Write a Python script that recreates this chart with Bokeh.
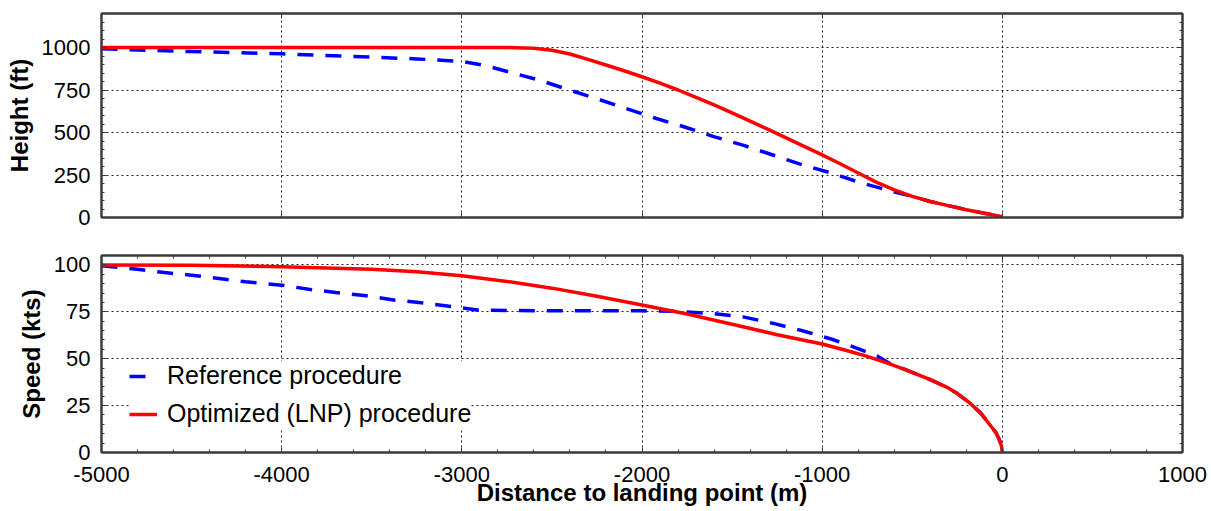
from bokeh.plotting import figure
from bokeh.layouts import column
from bokeh.models import (LinearAxis, SingleIntervalTicker, Range1d, Legend, LegendItem,
                          CustomJSTickFormatter, Grid)
from bokeh.embed import file_html
from bokeh.resources import INLINE

# ---------------- data ----------------
# Height panel
ref_h_x = [-5000, -4500, -4000, -3500, -3250, -3000, -2875, -2748, -2563, -2406, -2249, -2082,
           -1925, -1759, -1602, -1435, -1278, -1111, -954, -797, -630, -500, -400, -300,
           -200, -100, 0]
ref_h = [992, 976, 963, 943, 933, 918, 895, 859, 806, 751, 698, 639,
         584, 531, 476, 424, 369, 310, 263, 208, 159, 124, 94, 70,
         46, 25, 5]

opt_h_x = [-5000, -4000, -3000, -2800, -2700, -2600, -2500, -2400, -2300, -2200, -2100, -2000,
           -1900, -1800, -1700, -1600, -1500, -1400, -1300, -1200, -1100, -1000, -900, -800,
           -700, -600, -500, -400, -300, -200, -100, 0]
opt_h = [1000, 1000, 1000, 1000, 999, 995, 984, 962, 930, 897, 863, 828,
         790, 750, 707, 662, 615, 567, 518, 468, 418, 368, 316, 262,
         208, 162, 124, 94, 70, 46, 25, 5]

# Speed panel
ref_v_x = [-5000, -4800, -4650, -4500, -4200, -4000, -3850, -3700, -3530, -3370, -3200, -3050,
           -2900, -2500, -2000, -1800, -1600, -1440, -1270, -1110, -950, -790, -690, -625,
           -500, -400, -300, -250, -185, -120, -66, -35, -20, -10, -4, 0]
ref_v = [99.5, 97.7, 95.9, 94.5, 91, 89.2, 87, 85.3, 83.5, 81.2, 79.6, 77.7,
         75.8, 75.5, 75.5, 75.2, 74, 72.3, 68.8, 64.9, 60.5, 55, 51.2, 47.5,
         42.7, 38.8, 34.4, 31.4, 26.8, 21, 14.4, 10.5, 7.5, 5, 3, 0]

opt_v_x = [-5000, -4500, -4000, -3500, -3250, -3000, -2750, -2500, -2250, -2000, -1750, -1500,
           -1250, -1000, -875, -750, -625, -500, -400, -300, -250, -185, -120, -66,
           -35, -20, -10, -4, 0]
opt_v = [100, 99.8, 99, 97.7, 96.3, 94.2, 91.2, 87.6, 83.3, 78.6, 73.8, 68.4,
         62.8, 57.8, 54.6, 51.2, 47.2, 42.7, 38.8, 34.4, 31.4, 26.8, 21, 14.4,
         10.5, 7.5, 5, 3, 0]

series_names = ["Reference procedure", "Optimized (LNP) procedure"]
x_title = "Distance to landing point (m)"
y_titles = ["Height (ft)", "Speed (kts)"]

# ---------------- style ----------------
FONT = "Liberation Sans"
FRAME = "#3a3a3a"
BLUE = "#0000ff"
RED = "#ff0000"
W = 1211


def make_axis(ticker, labels, title=None, standoff=11, title_standoff=5, minor=True):
    ax = LinearAxis(ticker=ticker)
    ax.axis_line_color = FRAME
    ax.axis_line_width = 2
    ax.major_tick_in = 5
    ax.major_tick_out = 0
    ax.major_tick_line_color = FRAME
    ax.major_tick_line_width = 1
    ax.minor_tick_in = 3 if minor else 0
    ax.minor_tick_out = 0
    ax.minor_tick_line_color = FRAME if minor else None
    if labels:
        ax.formatter = CustomJSTickFormatter(code="return String(Math.round(tick));")
        ax.major_label_text_font = FONT
        ax.major_label_text_font_size = "22px"
        ax.major_label_text_color = "#000000"
        ax.major_label_standoff = standoff
    else:
        ax.formatter = CustomJSTickFormatter(code="return '';")
        ax.major_label_text_font_size = "0px"
        ax.major_label_standoff = 0
    if title:
        ax.axis_label = title
        ax.axis_label_text_font = FONT
        ax.axis_label_text_font_size = "24px"
        ax.axis_label_text_font_style = "bold"
        ax.axis_label_text_color = "#000000"
        ax.axis_label_standoff = title_standoff
    return ax


def make_panel(height, ymax, yint, b_top, b_bottom, xlabels, ytitle):
    p = figure(width=W, height=height, x_range=Range1d(-5000, 1000), y_range=Range1d(0, ymax),
               x_axis_type=None, y_axis_type=None, output_backend="svg", toolbar_location=None,
               min_border_left=101, min_border_right=29, min_border_top=b_top,
               min_border_bottom=b_bottom)
    p.background_fill_color = "white"
    p.border_fill_color = "white"
    p.outline_line_color = FRAME
    p.outline_line_width = 2

    xt = lambda: SingleIntervalTicker(interval=1000, num_minor_ticks=5)
    yt = lambda: SingleIntervalTicker(interval=yint, num_minor_ticks=5)

    if xlabels:
        p.add_layout(make_axis(xt(), True, x_title, standoff=14, title_standoff=-6), "below")
    else:
        p.add_layout(make_axis(xt(), False, minor=False), "below")
    p.add_layout(make_axis(xt(), False, minor=xlabels), "above")
    p.add_layout(make_axis(yt(), True, ytitle, standoff=11, title_standoff=6), "left")
    p.add_layout(make_axis(yt(), False), "right")

    for dim, t in ((0, xt()), (1, yt())):
        g = Grid(dimension=dim, ticker=t)
        g.grid_line_color = "#222222"
        g.grid_line_width = 1
        g.grid_line_dash = "2 3"
        p.add_layout(g)
    return p


top = make_panel(236, 1200, 250, 13, 19, False, y_titles[0])
top.line(ref_h_x, ref_h, line_color=BLUE, line_width=3.5, line_dash="16 12")
top.line(opt_h_x, opt_h, line_color=RED, line_width=3.5, line_join="round")

bot = make_panel(275, 105, 25, 19, 59, True, y_titles[1])
rb = bot.line(ref_v_x, ref_v, line_color=BLUE, line_width=3.5, line_dash="16 12")
rr = bot.line(opt_v_x, opt_v, line_color=RED, line_width=3.5, line_join="round")

legend = Legend(items=[LegendItem(label=series_names[0], renderers=[rb]),
                       LegendItem(label=series_names[1], renderers=[rr])],
                location=(28, 24), margin=0, padding=6, spacing=9,
                glyph_width=28, glyph_height=28, label_height=28, label_standoff=10,
                label_text_font=FONT, label_text_font_size="25px", label_text_color="#000000",
                border_line_color=None, background_fill_color="white", background_fill_alpha=1.0)
bot.add_layout(legend)

layout = column(top, bot, spacing=0)

open("out.html", "w").write(file_html(layout, INLINE))
